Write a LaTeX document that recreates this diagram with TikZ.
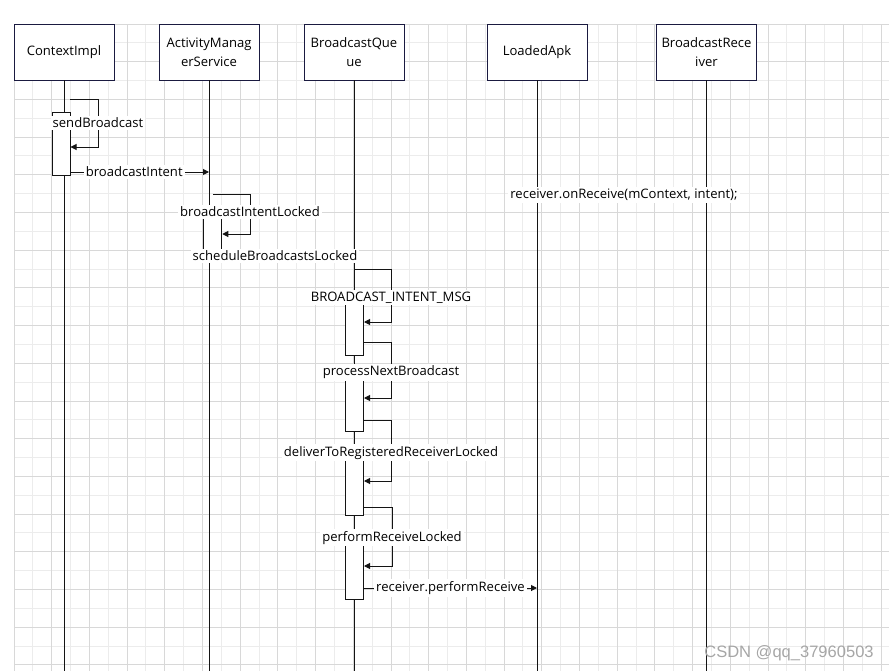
\documentclass[tikz,border=0pt]{standalone}
\usepackage{fontspec}
\setmainfont{Open Sans}
\newfontfamily\markfont{Liberation Sans}
\usetikzlibrary{arrows.meta}
\definecolor{boxline}{RGB}{26,26,64}
\definecolor{msgline}{RGB}{20,20,20}
\definecolor{gridmajor}{RGB}{216,216,216}
\definecolor{gridminor}{RGB}{236,236,236}
\tikzset{
  lifebox/.style={draw=boxline,fill=white,line width=0.75pt,minimum width=75pt,minimum height=42pt,align=center,inner sep=1pt,font=\fontsize{9.8}{14.25}\selectfont},
  lifeline/.style={draw=msgline,line width=0.75pt},
  actbar/.style={draw=msgline,fill=white,line width=0.75pt,minimum width=13.5pt,inner sep=0pt},
  msg/.style={draw=msgline,line width=0.75pt,-{Triangle[length=4.5pt,width=4.5pt]}},
  msglabel/.style={fill=white,inner sep=1.5pt,font=\fontsize{9.8}{11}\selectfont},
}
\begin{document}
\begin{tikzpicture}[x=0.75pt,y=-0.75pt,line cap=rect]
	\useasboundingbox (0,0) rectangle (889,671);
	% grid
	\foreach \i in {0,...,46} \draw[gridminor,line width=0.75pt] ({14+\i*18.85},24) -- ({14+\i*18.85},671);
	\foreach \i in {0,...,34} \draw[gridminor,line width=0.75pt] (14,{24+\i*18.85}) -- (889,{24+\i*18.85});
	\foreach \i in {0,2,...,46} \draw[gridmajor,line width=0.75pt] ({14+\i*18.85},24) -- ({14+\i*18.85},671);
	\foreach \i in {0,2,...,34} \draw[gridmajor,line width=0.75pt] (14,{24+\i*18.85}) -- (889,{24+\i*18.85});
	% participants
	\node[lifebox] (ctx) at (64,52) {ContextImpl};
	\node[lifebox] (ams) at (209,52) {ActivityManag\\erService};
	\node[lifebox] (bq) at (354,52) {BroadcastQue\\ue};
	\node[lifebox] (lapk) at (537,52) {LoadedApk};
	\node[lifebox] (brcv) at (706.5,52) {BroadcastRece\\iver};
	\coordinate (bottom) at (0,671);
	\foreach \p in {ctx,ams,bq,lapk,brcv} \draw[lifeline] (\p.south) -- (\p.south |- bottom);
	% activations
	\node[actbar,minimum height=47.25pt] (act-sb) at (61,143.5) {};
	\node[actbar,minimum height=33pt] (act-ams) at (212.75,234) {};
	\node[actbar,minimum height=42.75pt] (act-bq1) at (354.5,326.5) {};
	\node[actbar,minimum height=44.25pt] (act-bq2) at (354.5,401.5) {};
	\node[actbar,minimum height=47.25pt] (act-bq3) at (354.5,483.5) {};
	\node[actbar,minimum height=46.5pt] (act-bq4) at (354.5,568) {};
	% message heights
	\coordinate (y-sb1) at (0,99);   \coordinate (y-sb2) at (0,147);
	\coordinate (y-bi) at (0,172);
	\coordinate (y-bil1) at (0,194); \coordinate (y-bil2) at (0,234);
	\coordinate (y-msg1) at (0,269); \coordinate (y-msg2) at (0,322);
	\coordinate (y-pnb1) at (0,342); \coordinate (y-pnb2) at (0,398);
	\coordinate (y-dtr1) at (0,420); \coordinate (y-dtr2) at (0,481);
	\coordinate (y-prl1) at (0,507); \coordinate (y-prl2) at (0,566);
	\coordinate (y-pr) at (0,588);
	% messages
	\draw[msg] (act-sb.east |- y-sb1) -- (98,99) |- node[msglabel,pos=0.25]{sendBroadcast} (act-sb.east |- y-sb2);
	\draw[msg] (act-sb.east |- y-bi) -- node[msglabel,pos=0.46]{broadcastIntent} (ams.south |- y-bi);
	\draw[msg] (213,194) -- (250,194) |- node[msglabel,pos=0.22]{broadcastIntentLocked} (act-ams.east |- y-bil2);
	\node[msglabel] (sbl) at (275,256) {scheduleBroadcastsLocked};
	\draw[msg] (bq.south |- y-msg1) -- (391,269) |- node[msglabel,pos=0.27]{BROADCAST\_INTENT\_MSG} (act-bq1.east |- y-msg2);
	\draw[msg] (act-bq1.east |- y-pnb1) -- (391,342) |- node[msglabel,pos=0.27]{processNextBroadcast} (act-bq2.east |- y-pnb2);
	\draw[msg] (act-bq2.east |- y-dtr1) -- (391,420) |- node[msglabel,pos=0.27]{deliverToRegisteredReceiverLocked} (act-bq3.east |- y-dtr2);
	\draw[msg] (act-bq3.east |- y-prl1) -- (392,507) |- node[msglabel,pos=0.26]{performReceiveLocked} (act-bq4.east |- y-prl2);
	\draw[msg] (act-bq4.east |- y-pr) -- node[msglabel]{receiver.performReceive} (lapk.south |- y-pr);
	\node[msglabel] (onrcv) at (624,195) {receiver.onReceive(mContext, intent);};
	% watermark
	\node[text=gray!70,font=\markfont\fontsize{12.4}{14}\selectfont,inner sep=0pt] (mark) at (789,653) {CSDN @qq\_37960503};
\end{tikzpicture}
\end{document}
